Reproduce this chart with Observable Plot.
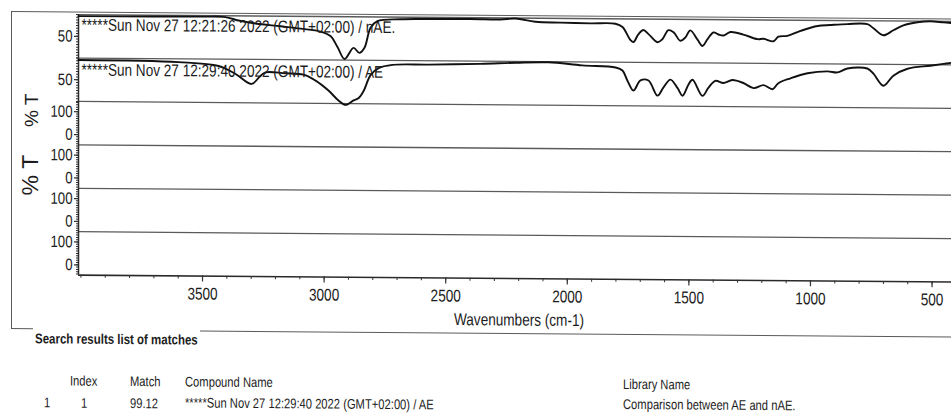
<!DOCTYPE html>
<html>
<head>
<meta charset="utf-8">
<script src="https://cdn.jsdelivr.net/npm/d3@7"></script>
<script src="https://cdn.jsdelivr.net/npm/@observablehq/plot@0.6"></script>
<style>
  html, body { margin: 0; padding: 0; background: #fff; overflow: hidden; }
  #page {
    position: relative; width: 951px; height: 413px; overflow: hidden;
    transform: skewY(0.45deg); transform-origin: 0 0;
    font-family: 'Liberation Sans', Arial, sans-serif;
    color: #1c1c1c;
  }
  .abs { position: absolute; white-space: nowrap; line-height: 1; transform: scaleX(0.8); transform-origin: 0 50%; }
  .hline { position: absolute; height: 0; border-top: 1.3px solid #5a5a5a; }
  .vline { position: absolute; width: 0; border-left: 1.3px solid #5a5a5a; }
  .ylab { position: absolute; white-space: nowrap; line-height: 1;
          transform: translate(-50%, -50%) rotate(-90deg); }
  #chart { position: absolute; left: 0; top: 0; }
  .tbl { font-size: 14px; }
</style>
</head>
<body>
<div id="page">
  <div class="hline" style="left:11px; top:11px; width:940px;"></div>
  <div class="vline" style="left:11px; top:11px; height:317px;"></div>
  <div class="hline" style="left:11px; top:328px; width:22px;"></div>
  <div class="hline" style="left:200px; top:329px; width:751px; border-top-width:1.6px;"></div>
  <div class="ylab" style="left:31px; top:110px; font-size:19px;">% T</div>
  <div class="ylab" style="left:30px; top:175px; font-size:23px;">% T</div>
  <div id="chart"></div>
  <div class="abs" style="left:35px; top:331px; font-size:14px; font-weight:bold; transform:scaleX(0.82);">Search results list of matches</div>
  <div class="abs tbl" style="left:70px; top:373px;">Index</div>
  <div class="abs tbl" style="left:130px; top:373px;">Match</div>
  <div class="abs tbl" style="left:185px; top:373px;">Compound Name</div>
  <div class="abs tbl" style="left:623px; top:372px;">Library Name</div>
  <div class="abs tbl" id="rowRank" style="left:44px; top:395px;"></div>
  <div class="abs tbl" id="rowIndex" style="left:81px; top:395px;"></div>
  <div class="abs tbl" id="rowMatch" style="left:130px; top:395px;"></div>
  <div class="abs tbl" id="rowName" style="left:185px; top:394px;"></div>
  <div class="abs tbl" id="rowLib" style="left:623px; top:392px;"></div>
</div>
<script>
// Stacked FTIR display: two spectra (nAE, AE) on top, four empty traces below.
const panelCount = 6;
const panelLo = [10, 10, -45, -45, -45, -45];   // %T at the bottom of each trace
const panelHi = [90, 90, 145, 145, 145, 145];   // %T at the top of each trace
const panelTicks = [[50], [50], [100, 0], [100, 0], [100, 0], [100, 0]];

const xDomain = [4010, 420];
const xTickLabels = [3500, 3000, 2500, 2000, 1500, 1000, 500];
const xLabel = "Wavenumbers (cm-1)";

const titleNAE = "*****Sun Nov 27 12:21:26 2022 (GMT+02:00) / nAE.";
const titleAE = "*****Sun Nov 27 12:29:40 2022 (GMT+02:00) / AE";

// nAE spectrum (top trace)
const nAE_wn = [4010, 3714, 3508, 3406, 3352, 3282, 3179, 3097, 3015, 2974, 2945, 2916, 2879, 2855, 2834, 2809, 2781, 2686, 2563, 2398,
  2275, 2213, 2131, 2028, 1905, 1802, 1773, 1740, 1728, 1707, 1687, 1666, 1629, 1609, 1584, 1563, 1535, 1514, 1494, 1465,
  1444, 1424, 1399, 1378, 1358, 1329, 1276, 1218, 1193, 1152, 1132, 1095, 1041, 971, 918, 848, 766, 741, 700, 659,
  618, 560, 507, 453, 420];
const nAE_T = [87.2, 87.6, 88, 87.6, 81.5, 76.3, 71.4, 67.3, 62.3, 54.2, 34.1, 12.1, 32.6, 23.5, 33, 70.1, 82.2, 86.1, 86.9, 87.6,
  87.2, 89.1, 83.4, 82.2, 81.3, 81, 75, 51, 47.4, 62.3, 69.7, 62.3, 47.5, 53.1, 69.9, 66.2, 50.5, 56.9, 69.8, 53.2,
  41.3, 53.4, 66.3, 62.6, 60.8, 67.3, 62.9, 54.6, 55.5, 50.9, 59.4, 61.2, 70.4, 79.8, 81.7, 83.7, 83.9, 76.5, 63.6, 73,
  82.2, 88, 90, 88.2, 87.1];

// AE spectrum (second trace)
const AE_wn = [4010, 3599, 3434, 3364, 3299, 3262, 3241, 3159, 3085, 3035, 2982, 2941, 2912, 2879, 2859, 2838, 2809, 2776, 2719, 2571,
  2357, 2213, 2077, 1938, 1802, 1773, 1753, 1728, 1699, 1666, 1629, 1605, 1576, 1547, 1526, 1502, 1485, 1444, 1420, 1391,
  1358, 1321, 1276, 1234, 1193, 1156, 1132, 1082, 1012, 930, 889, 848, 766, 741, 700, 659, 601, 507, 453, 420];
const AE_T = [86.3, 83.9, 77.3, 62.9, 44.8, 59.7, 66.4, 64.9, 62.7, 51.8, 33.7, 15.6, 7.5, 16, 19.9, 33, 62.7, 75.8, 81.9, 83,
  85, 87.6, 88.9, 83.7, 80.4, 75, 56.6, 38.1, 56.8, 56.8, 29.1, 43.9, 58.8, 43.7, 29.3, 49.6, 58.8, 29.3, 44.2, 57.1,
  53.4, 59, 53.6, 44.4, 49.9, 42.6, 53.8, 63, 72.5, 76.3, 74.5, 81.9, 82.1, 72.8, 50.7, 69.3, 82.3, 88.2, 91.8, 93.9];

// Search result row
const resultRank = "1";
const resultIndex = "1";
const resultMatch = 99.12;
const resultName = "*****Sun Nov 27 12:29:40 2022 (GMT+02:00) / AE";
const resultLibrary = "Comparison between AE and nAE.";

// Each trace occupies one unit of the stacked y scale; trace 0 is on top.
const stackY = (k, t) => (panelCount - 1 - k) + (t - panelLo[k]) / (panelHi[k] - panelLo[k]);

const nAE = nAE_wn.map((wn, i) => ({wn, y: stackY(0, nAE_T[i])}));
const AE = AE_wn.map((wn, i) => ({wn, y: stackY(1, AE_T[i])}));

const yTicks = panelTicks.flatMap((ts, k) => ts.map(t => ({y: stackY(k, t), label: String(t)})));
const yMinor = panelLo.flatMap((lo, k) => {
  const step = k < 2 ? 5 : 10;
  return d3.range(Math.ceil(lo / step) * step, panelHi[k] + 0.001, step).map(t => stackY(k, t));
});
const xMinor = d3.range(500, 4001, 100);
const xLeft = xDomain[0];
const ink = "#1c1c1c";

const chart = Plot.plot({
  width: 951,
  height: 330,
  marginLeft: 78,
  marginRight: 0,
  marginTop: 13.5,
  marginBottom: 56,
  x: {domain: xDomain, axis: null},
  y: {domain: [0, panelCount], axis: null},
  style: {
    background: "transparent",
    overflow: "visible",
    fontFamily: "'Liberation Sans', Arial, sans-serif",
    fontSize: "16.5px",
    color: ink
  },
  marks: [
    Plot.ruleY(d3.range(1, panelCount + 1), {stroke: "#5a5a5a", strokeWidth: 1.3}),
    Plot.ruleY([0], {stroke: "#2a2a2a", strokeWidth: 1.6}),
    Plot.ruleX([xLeft], {y1: 0, y2: panelCount, stroke: "#2a2a2a", strokeWidth: 1.5}),
    Plot.ruleY(yMinor, {x1: xLeft, x2: xLeft, insetLeft: -2, stroke: "#333", strokeWidth: 1}),
    Plot.ruleY(yTicks, {y: "y", x1: xLeft, x2: xLeft, insetLeft: -4, stroke: "#333", strokeWidth: 1.2}),
    Plot.text(yTicks, {x: xLeft, y: "y", text: "label", textAnchor: "end", dx: -6, fill: ink}),
    Plot.ruleX(xMinor, {y1: 0, y2: 0, insetBottom: -3, stroke: "#333", strokeWidth: 1}),
    Plot.ruleX(xTickLabels, {y1: 0, y2: 0, insetBottom: -6, stroke: "#333", strokeWidth: 1.2}),
    Plot.text(xTickLabels, {x: d => d, y: 0, dy: 18, text: d => String(d), fontSize: 17, fill: ink}),
    Plot.line(nAE, {x: "wn", y: "y", curve: "catmull-rom", stroke: "#111", strokeWidth: 1.9}),
    Plot.line(AE, {x: "wn", y: "y", curve: "catmull-rom", stroke: "#111", strokeWidth: 1.9}),
    Plot.text([titleNAE], {x: xLeft, y: panelCount, dx: 3, dy: 10.5, textAnchor: "start", fontSize: 17, fill: ink}),
    Plot.text([titleAE], {x: xLeft, y: panelCount - 1, dx: 3, dy: 12, textAnchor: "start", fontSize: 17, fill: ink}),
    Plot.text([xLabel], {frameAnchor: "bottom", dx: 4, dy: 47, fontSize: 17, fill: ink})
  ]
});

// Condensed lettering: squeeze every label horizontally about its anchor point.
chart.querySelectorAll("text").forEach(t => {
  const tr = t.getAttribute("transform");
  if (tr) {
    t.setAttribute("transform", tr + " scale(0.8,1)");
  } else {
    const x = +(t.getAttribute("x") || 0);
    t.setAttribute("transform", `translate(${x},0) scale(0.8,1) translate(${-x},0)`);
  }
});
document.getElementById("chart").appendChild(chart);

document.getElementById("rowRank").textContent = resultRank;
document.getElementById("rowIndex").textContent = resultIndex;
document.getElementById("rowMatch").textContent = resultMatch.toFixed(2);
document.getElementById("rowName").textContent = resultName;
document.getElementById("rowLib").textContent = resultLibrary;
</script>
</body>
</html>
